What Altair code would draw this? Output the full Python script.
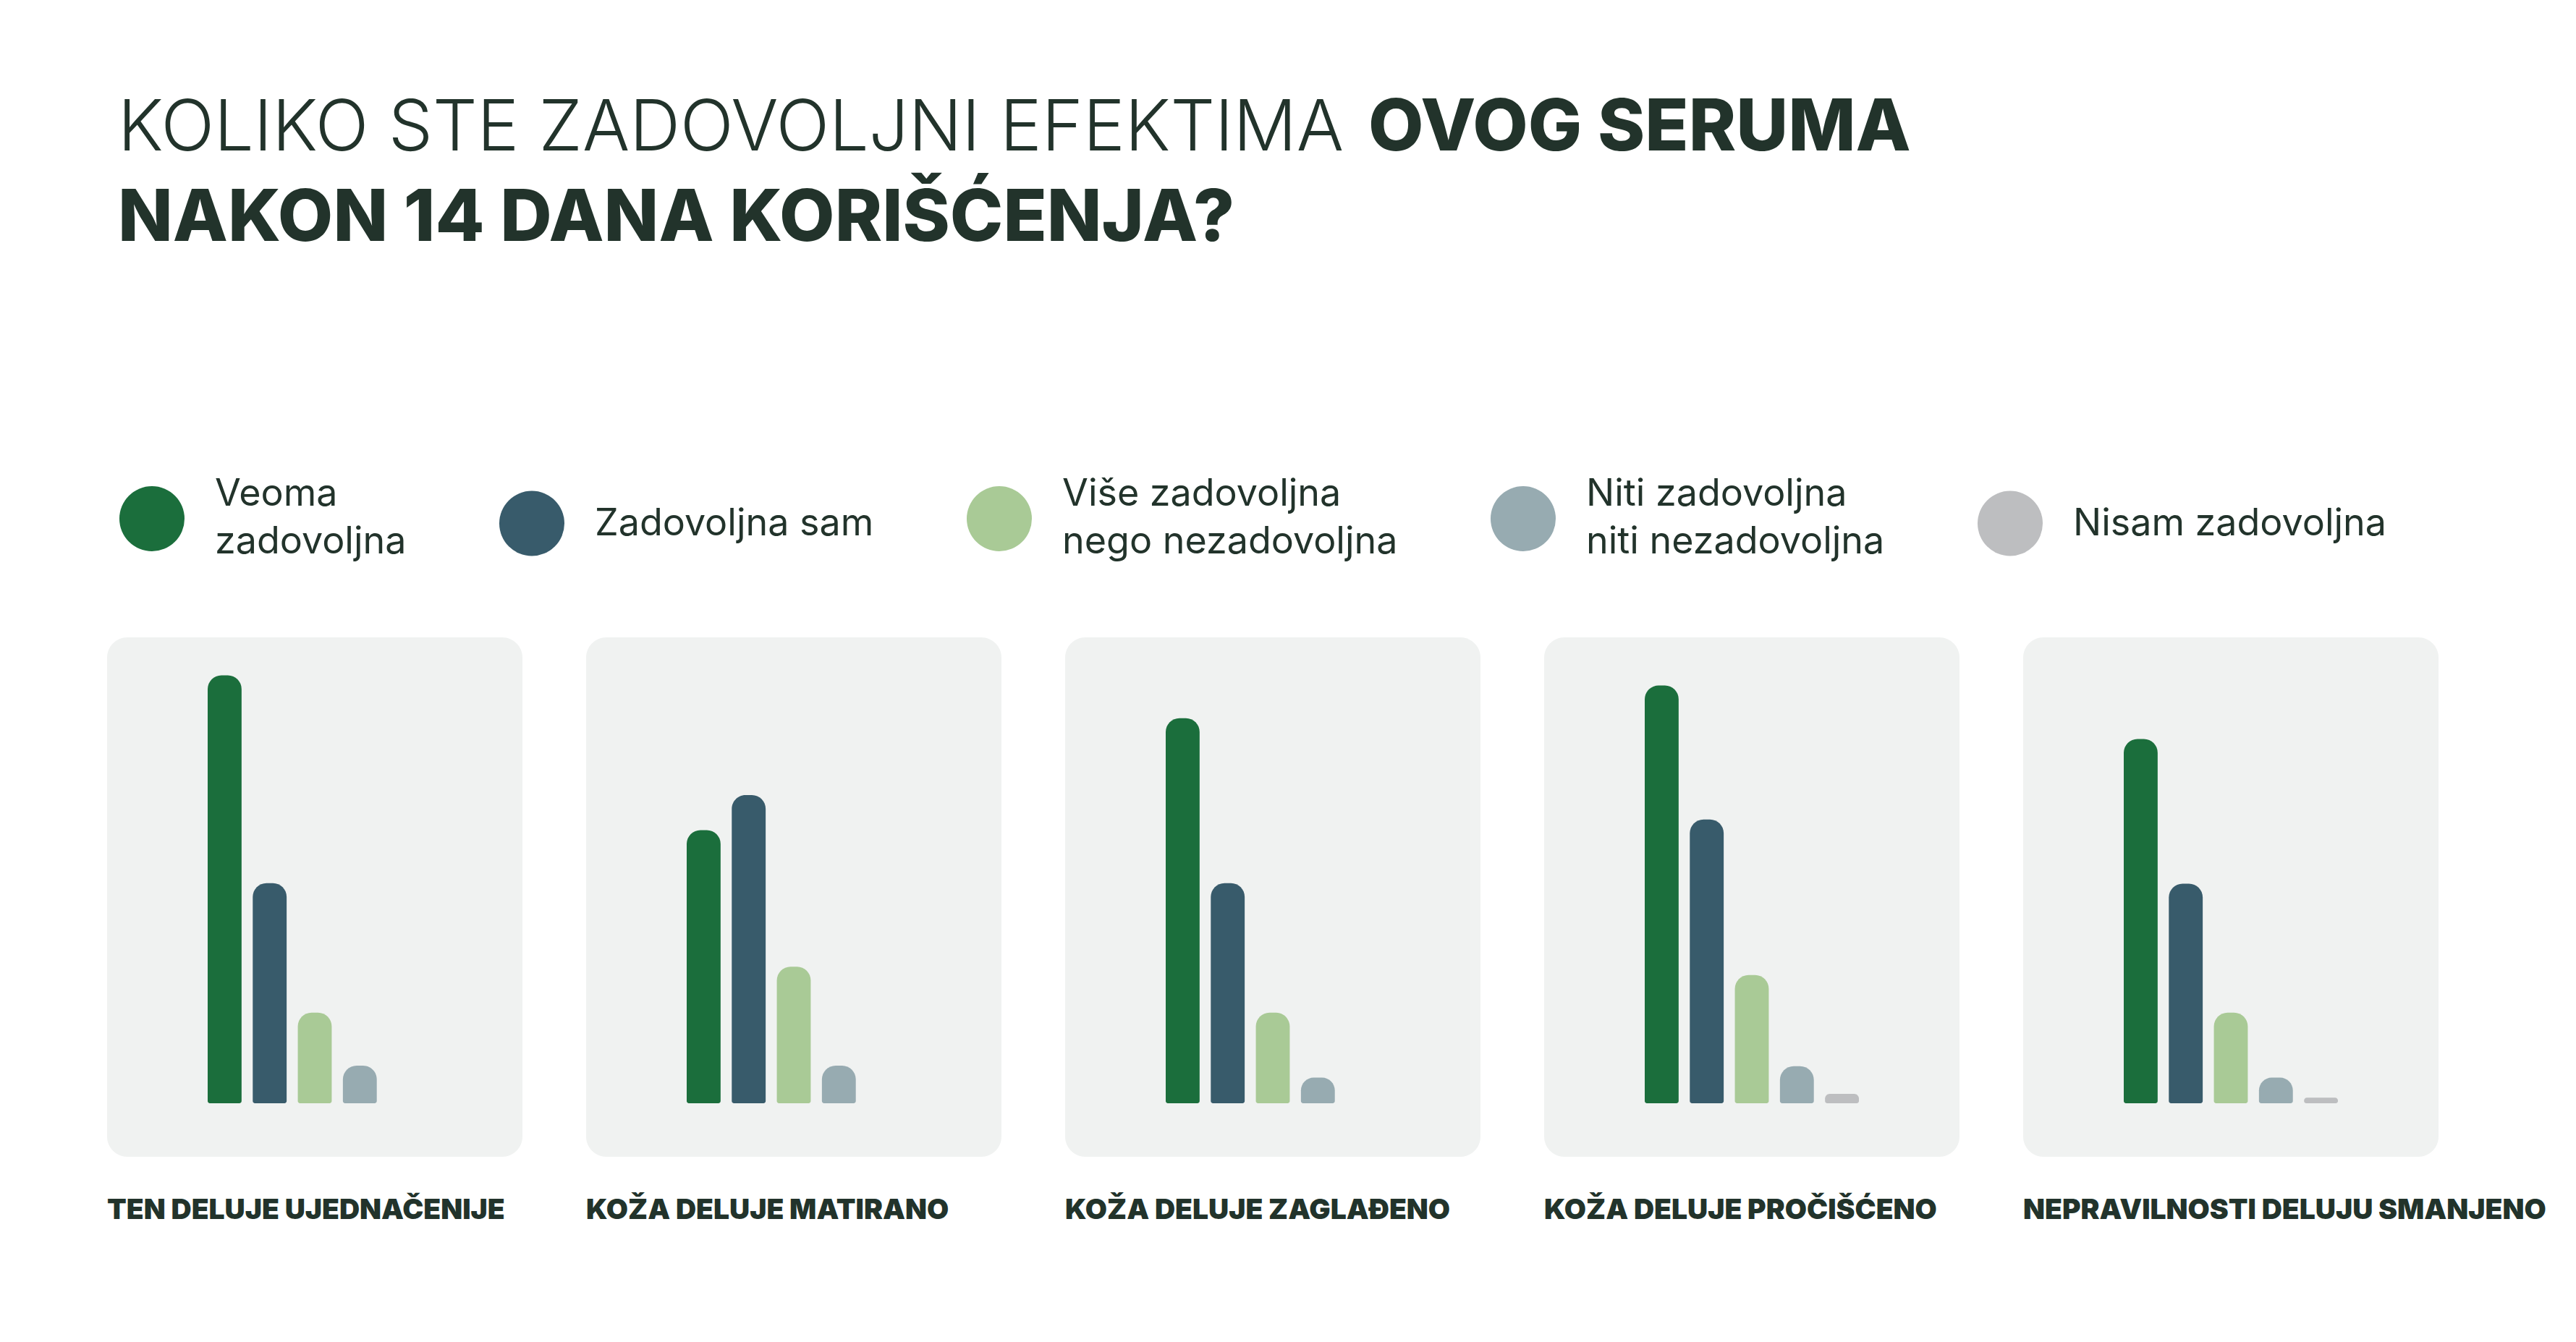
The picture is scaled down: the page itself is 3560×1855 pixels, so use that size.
import json
import altair as alt
import pandas as pd

# ---------------- data ----------------
panels = [
    "TEN DELUJE UJEDNAČENIJE",
    "KOŽA DELUJE MATIRANO",
    "KOŽA DELUJE ZAGLAĐENO",
    "KOŽA DELUJE PROČIŠĆENO",
    "NEPRAVILNOSTI DELUJU SMANJENO",
]
categories = [
    "Veoma zadovoljna",
    "Zadovoljna sam",
    "Više zadovoljna nego nezadovoljna",
    "Niti zadovoljna niti nezadovoljna",
    "Nisam zadovoljna",
]
legend_lines = [
    ["Veoma", "zadovoljna"],
    ["Zadovoljna sam"],
    ["Više zadovoljna", "nego nezadovoljna"],
    ["Niti zadovoljna", "niti nezadovoljna"],
    ["Nisam zadovoljna"],
]
colors = ["#1b6e3c", "#385b6b", "#a9ca96", "#97abb1", "#bdbec0"]

veoma = [68.0, 43.4, 61.2, 66.4, 57.9]
zadovoljna = [35.0, 49.0, 35.0, 45.1, 34.9]
vise = [14.4, 21.7, 14.4, 20.4, 14.4]
niti = [6.0, 6.0, 4.1, 5.9, 4.1]
nisam = [0.0, 0.0, 0.0, 1.5, 0.9]

title_light = "KOLIKO STE ZADOVOLJNI EFEKTIMA"
title_bold_1 = "OVOG SERUMA"
title_bold_2 = "NAKON 14 DANA KORIŠĆENJA?"

series = [veoma, zadovoljna, vise, niti, nisam]
rows = []
for ci, cat in enumerate(categories):
    for pi, p in enumerate(panels):
        rows.append({"panel": p, "category": cat, "value": series[ci][pi]})
df = pd.DataFrame(rows)

TEXT = "#22332b"
FONT = "Inter"
PANEL_W, PANEL_H = 574, 718
GAP = 88
LEFT = 140
TOTAL_W = 5 * PANEL_W + 4 * GAP

# legend label expression (multi-line labels)
expr = "datum.label"
for cat, lines in zip(categories, legend_lines):
    expr = f"datum.label == {json.dumps(cat)} ? {json.dumps(lines)} : (" + expr + ")"
multi = [c for c, l in zip(categories, legend_lines) if len(l) > 1]
baseline_expr = (
    "indexof(" + json.dumps(multi) + ", datum.label) >= 0 ? 'line-bottom' : 'middle'"
)

color_enc = alt.Color(
    "category:N",
    sort=categories,
    scale=alt.Scale(domain=categories, range=colors),
    legend=alt.Legend(
        title=None,
        orient="none",
        legendX=17,
        legendY=664,
        direction="horizontal",
        columns=5,
        symbolType="circle",
        symbolSize=8100,
        symbolStrokeWidth=0,
        symbolOpacity=1,
        labelFont=FONT,
        labelFontSize=52,
        labelColor=TEXT,
        labelOffset=42,
        labelLimit=0,
        columnPadding=128,
        padding=0,
        labelExpr=expr,
        labelBaseline={"expr": baseline_expr},
    ),
)


def panel_chart(p):
    return (
        alt.Chart(df)
        .transform_filter(alt.datum.panel == p)
        .mark_bar(
            cornerRadiusTopLeft=19,
            cornerRadiusTopRight=19,
            cornerRadiusBottomLeft=3,
            cornerRadiusBottomRight=3,
        )
        .encode(
            x=alt.X(
                "category:N",
                sort=categories,
                scale=alt.Scale(domain=categories, range=[139, 435], paddingInner=0.248, paddingOuter=0),
                axis=None,
            ),
            y=alt.Y("value:Q", scale=alt.Scale(domain=[-8.5, 74.05], nice=False, zero=False), axis=None),
            y2=alt.datum(0),
            color=color_enc,
        )
        .properties(
            width=PANEL_W,
            height=PANEL_H,
            view=alt.ViewBackground(fill="#f0f2f1", cornerRadius=28, stroke=None),
            title=alt.TitleParams(
                p,
                orient="bottom",
                anchor="start",
                baseline="alphabetic",
                offset=86,
                font=FONT,
                fontSize=39,
                fontWeight=900,
                color=TEXT,
            ),
        )
    )


row = alt.hconcat(*[panel_chart(p) for p in panels], spacing=GAP)

hdr_df1 = pd.DataFrame({"t": [title_light]})
hdr_df2 = pd.DataFrame({"t": [title_bold_1]})
hdr_df3 = pd.DataFrame({"t": [title_bold_2]})

h1 = alt.Chart(hdr_df1).mark_text(
    align="left", baseline="alphabetic", font=FONT, fontSize=97, fontWeight=300, color=TEXT
).encode(x=alt.value(15), y=alt.value(200), text="t:N")
h2 = alt.Chart(hdr_df2).mark_text(
    align="left", baseline="alphabetic", font=FONT, fontSize=99, fontWeight=800, color=TEXT
).encode(x=alt.value(1743), y=alt.value(200), text="t:N")
h3 = alt.Chart(hdr_df3).mark_text(
    align="left", baseline="alphabetic", font=FONT, fontSize=99, fontWeight=800, color=TEXT
).encode(x=alt.value(15), y=alt.value(325), text="t:N")

header = alt.layer(h1, h2, h3).properties(width=TOTAL_W, height=873)

chart = (
    alt.vconcat(header, row, spacing=0)
    .properties(
        padding={"left": LEFT, "top": 0, "right": 0, "bottom": 0},
        background="white",
    )
    .configure(
        view=alt.ViewConfig(stroke=None),
        style={"guide-label": {"lineHeight": 66}},
    )
)

chart.save("out.html", embed_options={"renderer": "svg", "actions": False})
